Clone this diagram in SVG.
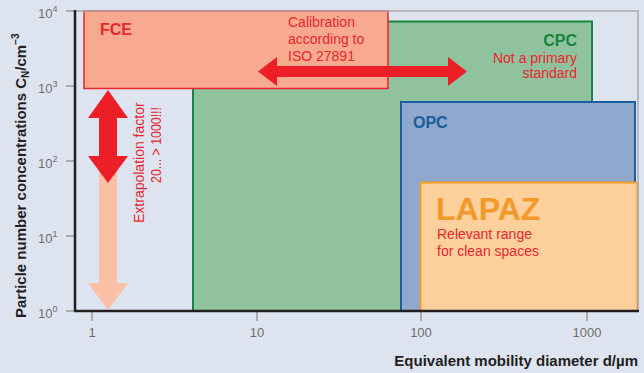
<svg xmlns="http://www.w3.org/2000/svg" width="644" height="373" viewBox="0 0 644 373">
  <style>
    .sans { font-family: "Liberation Sans", Arial, sans-serif; }
    .tick { stroke: #9a9a9a; stroke-width: 1.5; fill: none; }
    .ticklabel { font-family: "Liberation Sans", Arial, sans-serif; font-size: 13px; fill: #6e6e6e; }
    .sup { font-size: 9px; }
    .axis { stroke: #231f20; stroke-width: 2.5; fill: none; }
    .frame { stroke: #a9a9a9; stroke-width: 1.5; fill: none; }
    .title { font-family: "Liberation Sans", Arial, sans-serif; font-size: 15px; font-weight: bold; fill: #231f20; }
    .red { fill: #ec1f27; }
    .note { font-family: "Liberation Sans", Arial, sans-serif; font-size: 14px; fill: #e8262d; }
    .label { font-family: "Liberation Sans", Arial, sans-serif; font-weight: bold; }
  </style>

  <rect x="0" y="0" width="644" height="373" fill="#dde4f0"/>

  <!-- measuring ranges -->
  <g id="cpc">
    <rect x="193" y="21.5" width="399" height="289.5" fill="#90c29d" stroke="#15853f" stroke-width="2"/>
    <text class="label" x="577" y="46" font-size="16" fill="#15853f" text-anchor="end">CPC</text>
    <text class="note" x="577" y="63" text-anchor="end">Not a primary</text>
    <text class="note" x="577" y="78" text-anchor="end">standard</text>
  </g>

  <g id="fce">
    <rect x="84" y="11" width="304" height="77.5" fill="#f9aa8e" stroke="#e8262d" stroke-width="1.5"/>
    <text class="label" x="100" y="35" font-size="16" fill="#e8262d">FCE</text>
  </g>

  <g id="opc">
    <rect x="401" y="102" width="234" height="209" fill="#8fa8ce" stroke="#1a5d9c" stroke-width="2"/>
    <text class="label" x="413" y="128" font-size="16" fill="#1a5d9c">OPC</text>
  </g>

  <g id="lapaz">
    <rect x="420.5" y="182.5" width="217" height="128.5" fill="#fed09b" stroke="#f39a2a" stroke-width="2"/>
    <text class="label" x="436" y="220" font-size="32" fill="#f39a2a">LAPAZ</text>
    <text class="note" x="437" y="239">Relevant range</text>
    <text class="note" x="437" y="256">for clean spaces</text>
  </g>

  <!-- plot frame and axes -->
  <g id="axes">
    <polyline class="frame" points="75,11 638,11 638,311"/>
    <line class="tick" x1="66" y1="11" x2="75" y2="11"/>
    <line class="tick" x1="66" y1="86" x2="75" y2="86"/>
    <line class="tick" x1="66" y1="161" x2="75" y2="161"/>
    <line class="tick" x1="66" y1="236" x2="75" y2="236"/>
    <line class="tick" x1="66" y1="311" x2="75" y2="311"/>
    <line class="tick" x1="92" y1="311" x2="92" y2="321"/>
    <line class="tick" x1="257" y1="311" x2="257" y2="321"/>
    <line class="tick" x1="421" y1="311" x2="421" y2="321"/>
    <line class="tick" x1="587" y1="311" x2="587" y2="321"/>
    <line class="axis" x1="75" y1="10" x2="75" y2="311"/>
    <line class="axis" x1="74" y1="311" x2="639" y2="311"/>

    <text class="ticklabel" x="38" y="17.5">10<tspan class="sup" dy="-6">4</tspan></text>
    <text class="ticklabel" x="38" y="92.5">10<tspan class="sup" dy="-6">3</tspan></text>
    <text class="ticklabel" x="38" y="167.5">10<tspan class="sup" dy="-6">2</tspan></text>
    <text class="ticklabel" x="38" y="242.5">10<tspan class="sup" dy="-6">1</tspan></text>
    <text class="ticklabel" x="38" y="317.5">10<tspan class="sup" dy="-6">0</tspan></text>

    <text class="ticklabel" x="92" y="337" text-anchor="middle">1</text>
    <text class="ticklabel" x="257" y="337" text-anchor="middle">10</text>
    <text class="ticklabel" x="421" y="337" text-anchor="middle">100</text>
    <text class="ticklabel" x="587" y="337" text-anchor="middle">1000</text>

    <text class="title" x="638" y="366" text-anchor="end">Equivalent mobility diameter d/µm</text>
    <text class="title" font-size="16" transform="translate(26,318) rotate(-90)">Particle number concentrations C<tspan font-size="10" dy="3">N</tspan><tspan dy="-3">/cm</tspan><tspan font-size="10" dy="-7">−3</tspan></text>
  </g>

  <!-- arrows -->
  <g id="connectors">
    <polygon fill="#f9c0a6" points="99,150 117,150 117,283 128,283 108,310 88,283 99,283"/>
    <polygon class="red" points="108,90 128,118 117,118 117,156 128,156 108,183 88,156 99,156 99,118 88,118"/>
    <polygon class="red" points="258,71.5 277,57 277,66 448,66 448,57 467,71.5 448,86 448,77 277,77 277,86"/>
  </g>

  <g id="annotations">
    <text class="note" x="288" y="27">Calibration</text>
    <text class="note" x="288" y="44">according to</text>
    <text class="note" x="288" y="61">ISO 27891</text>
    <text class="note" font-size="13" transform="translate(144,223) rotate(-90)">Extrapolation factor</text>
    <text class="note" font-size="13" transform="translate(161,183) rotate(-90)" textLength="76" lengthAdjust="spacingAndGlyphs">20... &gt; 1000!!!</text>
  </g>
</svg>
